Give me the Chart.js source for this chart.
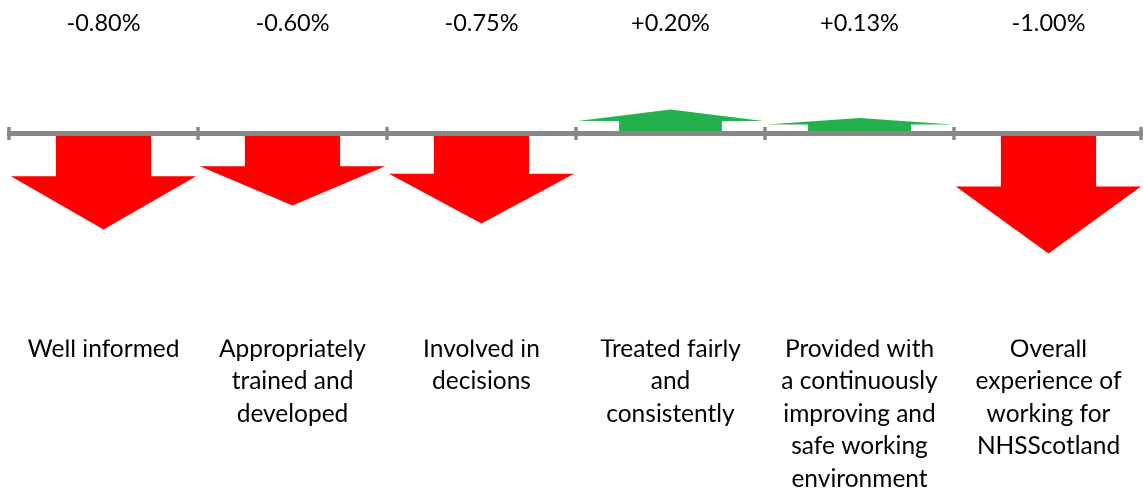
<!DOCTYPE html>
<html>
<head>
<meta charset="utf-8">
<script src="https://cdn.jsdelivr.net/npm/chart.js@4/dist/chart.umd.min.js"></script>
<style>
  html, body { margin: 0; padding: 0; background: #fff; }
  #wrap { width: 1144px; height: 488px; }
</style>
</head>
<body>
<div id="wrap"><canvas id="c" width="1144" height="488"></canvas></div>
<script>
// Survey themes (multi-line labels) and year-on-year change in percentage points
const categories = [
  ["Well informed"],
  ["Appropriately", "trained and", "developed"],
  ["Involved in", "decisions"],
  ["Treated fairly", "and", "consistently"],
  ["Provided with", "a continuously", "improving and", "safe working", "environment"],
  ["Overall", "experience of", "working for", "NHSScotland"]
];
const changes = [-0.80, -0.60, -0.75, 0.20, 0.13, -1.00];
const changeLabels = changes.map(v => (v > 0 ? "+" : "") + v.toFixed(2) + "%");

const UP = "#23B14D";
const DOWN = "#FF0000";
const AXIS = "#888888";
const FONT = "Lato, 'Open Sans', sans-serif";

// Draws each bar as a block arrow: shaft from zero, wide head ending at the value.
const arrowBars = {
  id: "arrowBars",
  beforeDatasetDraw(chart, args) {
    const ctx = chart.ctx;
    args.meta.data.forEach((el) => {
      const w = el.width;
      const base = el.base, tip = el.y;
      const len = Math.abs(tip - base);
      const dir = tip < base ? -1 : 1;
      const shaftLen = 0.42 * len + 2.5;
      const neck = base + dir * shaftLen;
      const shaftHalf = (dir < 0 ? 0.272 : 0.252) * w;
      const headHalf = 0.49 * w;
      ctx.save();
      ctx.fillStyle = el.options.backgroundColor;
      ctx.beginPath();
      ctx.moveTo(el.x - shaftHalf, base);
      ctx.lineTo(el.x - shaftHalf, neck);
      ctx.lineTo(el.x - headHalf, neck);
      ctx.lineTo(el.x, tip);
      ctx.lineTo(el.x + headHalf, neck);
      ctx.lineTo(el.x + shaftHalf, neck);
      ctx.lineTo(el.x + shaftHalf, base);
      ctx.closePath();
      ctx.fill();
      ctx.restore();
    });
    return false;
  }
};

// Zero line across the categories with short tick marks at category boundaries.
const zeroAxis = {
  id: "zeroAxis",
  afterDatasetsDraw(chart) {
    const ctx = chart.ctx;
    const xs = chart.scales.x, ys = chart.scales.y;
    const y0 = ys.getPixelForValue(0);
    const step = xs.getPixelForValue(1) - xs.getPixelForValue(0);
    const first = xs.getPixelForValue(0) - step / 2;
    const last = xs.getPixelForValue(categories.length - 1) + step / 2;
    ctx.save();
    ctx.strokeStyle = AXIS;
    ctx.lineWidth = 5;
    ctx.beginPath();
    ctx.moveTo(first - 2, y0);
    ctx.lineTo(last, y0);
    ctx.stroke();
    ctx.lineWidth = 3.5;
    for (let i = 0; i <= categories.length; i++) {
      const bx = Math.min(first + i * step, last - 2);
      ctx.beginPath();
      ctx.moveTo(bx, y0 - 6.5);
      ctx.lineTo(bx, y0 + 6.5);
      ctx.stroke();
    }
    ctx.restore();
  }
};

Chart.defaults.color = "#000";
Chart.defaults.font.family = FONT;

new Chart(document.getElementById("c"), {
  type: "bar",
  data: {
    labels: categories,
    datasets: [{
      data: changes,
      xAxisID: "x",
      yAxisID: "y",
      backgroundColor: changes.map(v => v < 0 ? DOWN : UP),
      borderWidth: 0,
      barPercentage: 1,
      categoryPercentage: 1
    }]
  },
  options: {
    responsive: false,
    animation: false,
    events: [],
    layout: { padding: { left: 9, right: 1, top: 0, bottom: 0 } },
    plugins: { legend: { display: false }, tooltip: { enabled: false } },
    scales: {
      x: {
        type: "category",
        position: "bottom",
        grid: { display: false, drawTicks: false },
        border: { display: false },
        ticks: {
          autoSkip: false, maxRotation: 0, minRotation: 0,
          padding: -7,
          font: { size: 24.5, lineHeight: "32.5px" }
        }
      },
      xTop: {
        type: "category",
        axis: "x",
        position: "top",
        labels: changeLabels,
        grid: { display: false, drawTicks: false },
        border: { display: false },
        ticks: {
          autoSkip: false, maxRotation: 0, minRotation: 0,
          padding: 9.6,
          font: { size: 23.5, lineHeight: 1.2 }
        }
      },
      y: {
        display: false,
        min: -1.7167,
        max: 0.7175
      }
    }
  },
  plugins: [arrowBars, zeroAxis]
});
</script>
</body>
</html>
